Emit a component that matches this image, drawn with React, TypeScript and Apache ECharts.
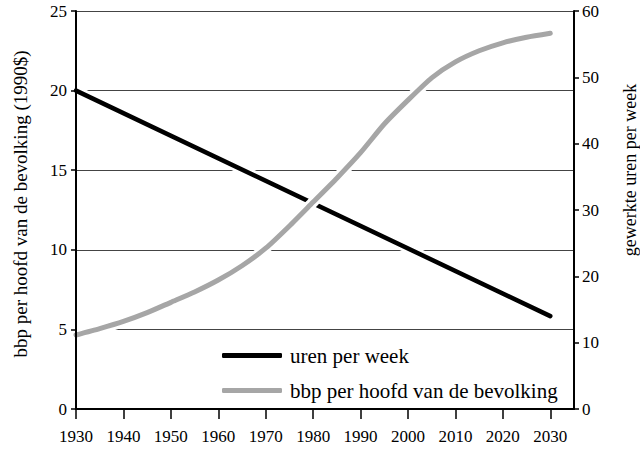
import React, { useEffect, useRef } from "react";
import * as echarts from "echarts";

const tickYears = [1930, 1940, 1950, 1960, 1970, 1980, 1990, 2000, 2010, 2020, 2030];
const gdpYears = [1930, 1935, 1940, 1945, 1950, 1955, 1960, 1965, 1970, 1975, 1980, 1985, 1990, 1995, 2000, 2005, 2010, 2015, 2020, 2025, 2030];
const gdpValues = [4.65, 5.05, 5.5, 6.05, 6.7, 7.35, 8.1, 9.0, 10.1, 11.5, 13.0, 14.5, 16.1, 17.9, 19.4, 20.8, 21.8, 22.5, 23.0, 23.35, 23.6];
const hoursYears = [1930, 2030];
const hoursValues = [48, 14];

const nameHours = "uren per week";
const nameGdp = "bbp per hoofd van de bevolking";
const leftAxisName = "bbp per hoofd van de bevolking (1990$)";
const rightAxisName = "gewerkte uren per week";

const FONT = "Times New Roman, Liberation Serif, serif";

export default function App() {
  const ref = useRef<HTMLDivElement>(null);
  useEffect(() => {
    if (!ref.current) return;
    const chart = echarts.init(ref.current, null, { renderer: "svg" });
    const gdpData = gdpYears.map((y, i) => [y, gdpValues[i]]);
    const hoursData = hoursYears.map((y, i) => [y, hoursValues[i]]);
    chart.setOption({
      animation: false,
      backgroundColor: "#fff",
      textStyle: { fontFamily: FONT, color: "#000" },
      grid: { left: 76, right: 66, top: 11, bottom: 40, containLabel: false },
      legend: {
        data: [
          { name: nameHours, icon: "roundRect" },
          { name: nameGdp, icon: "roundRect" },
        ],
        orient: "vertical",
        left: 222,
        top: 345,
        padding: 0,
        itemWidth: 60,
        itemHeight: 5,
        itemGap: 14,
        textStyle: { fontFamily: FONT, fontSize: 21, color: "#000", padding: [0, 0, 0, 3] },
      },
      xAxis: [
        {
          type: "value",
          min: 1930,
          max: 2035,
          position: "bottom",
          z: 10,
          axisLine: { show: true, lineStyle: { color: "#000", width: 2 } },
          axisTick: { show: true, customValues: tickYears, length: 10, lineStyle: { color: "#000", width: 1.5 } },
          axisLabel: {
            customValues: tickYears,
            margin: 19,
            fontSize: 17,
            fontFamily: FONT,
            color: "#000",
            formatter: (v: number) => String(v),
          },
          splitLine: { show: false },
        },
        {
          type: "value",
          min: 1930,
          max: 2035,
          position: "top",
          z: 10,
          axisLine: { show: true, lineStyle: { color: "#000", width: 1 } },
          axisTick: { show: false },
          axisLabel: { show: false },
          splitLine: { show: false },
        },
      ],
      yAxis: [
        {
          type: "value",
          min: 0,
          max: 25,
          interval: 5,
          position: "left",
          z: 0,
          axisLine: { show: false },
          axisTick: { show: false },
          axisLabel: { show: false },
          splitLine: { show: true, lineStyle: { color: "#444", width: 1 } },
        },
        {
          type: "value",
          min: 0,
          max: 60,
          interval: 10,
          position: "right",
          z: 10,
          axisLine: { show: true, lineStyle: { color: "#000", width: 2 } },
          axisTick: { show: true, length: 5, lineStyle: { color: "#000", width: 1.5 } },
          axisLabel: { margin: 8, fontSize: 17, fontFamily: FONT, color: "#000" },
          splitLine: { show: false },
        },
        {
          type: "value",
          min: 0,
          max: 25,
          interval: 5,
          position: "left",
          z: 10,
          axisLine: { show: true, lineStyle: { color: "#000", width: 2 } },
          axisTick: { show: true, length: 5, lineStyle: { color: "#000", width: 1.5 } },
          axisLabel: { margin: 9, fontSize: 17, fontFamily: FONT, color: "#000" },
          splitLine: { show: false },
        },
      ],
      graphic: [
        {
          type: "text",
          x: 20,
          y: 204,
          rotation: Math.PI / 2,
          style: {
            text: leftAxisName,
            fontSize: 19,
            fontFamily: FONT,
            fill: "#000",
            align: "center",
            verticalAlign: "middle",
          },
        },
        {
          type: "text",
          x: 630,
          y: 170,
          rotation: Math.PI / 2,
          style: {
            text: rightAxisName,
            fontSize: 18,
            fontFamily: FONT,
            fill: "#000",
            align: "center",
            verticalAlign: "middle",
          },
        },
      ],
      series: [
        {
          name: "halo-hours",
          type: "line",
          xAxisIndex: 0,
          yAxisIndex: 1,
          data: hoursData,
          symbol: "none",
          silent: true,
          z: 2,
          lineStyle: { color: "#fff", width: 10 },
        },
        {
          name: nameHours,
          type: "line",
          xAxisIndex: 0,
          yAxisIndex: 1,
          data: hoursData,
          symbol: "none",
          z: 3,
          color: "#000",
          lineStyle: { color: "#000", width: 4.5, cap: "round" },
        },
        {
          name: "halo-gdp",
          type: "line",
          xAxisIndex: 0,
          yAxisIndex: 2,
          data: gdpData,
          symbol: "none",
          silent: true,
          smooth: 0.2,
          z: 4,
          lineStyle: { color: "#fff", width: 11 },
        },
        {
          name: nameGdp,
          type: "line",
          xAxisIndex: 0,
          yAxisIndex: 2,
          data: gdpData,
          symbol: "none",
          smooth: 0.2,
          z: 5,
          color: "#a6a6a6",
          lineStyle: { color: "#a6a6a6", width: 5, cap: "round" },
        },
      ],
    });
    return () => chart.dispose();
  }, []);
  return <div ref={ref} style={{ position: "fixed", left: 0, top: 0, width: 640, height: 449 }} />;
}
